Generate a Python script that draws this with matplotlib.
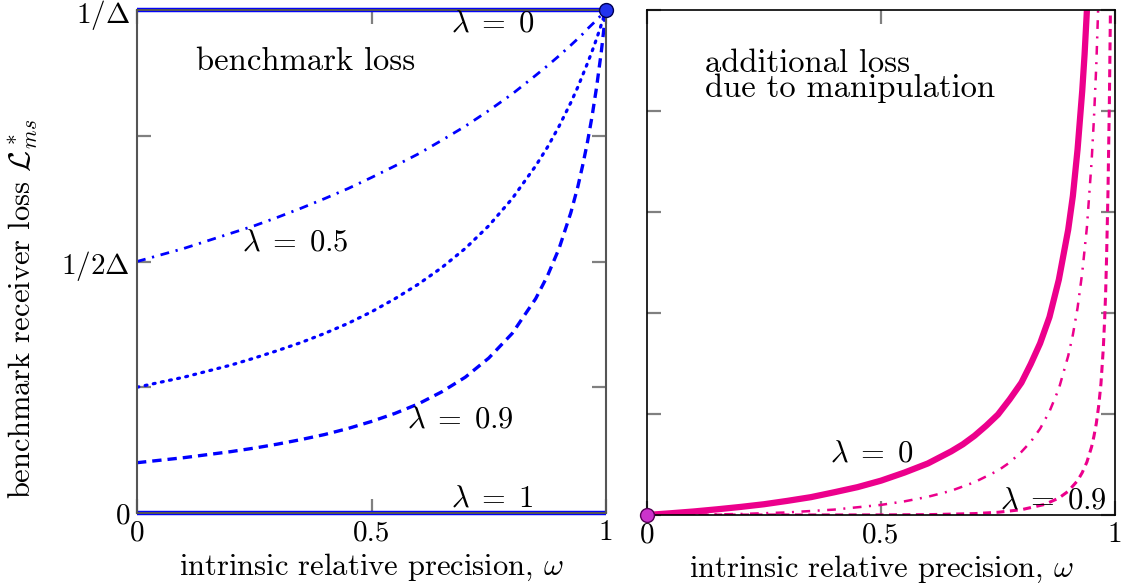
import matplotlib
matplotlib.use("Agg")
import matplotlib.pyplot as plt

# =============================
# Data
# =============================

# left panel: benchmark loss (in units of 1/Delta)
omega_b = [0, .05, .1, .15, .2, .25, .3, .35, .4, .45, .5, .55, .6, .65,
           .7, .75, .8, .85, .875, .9, .925, .94, .95, .96, .97, .98, .99, 1]
bench_l05 = [0.5, 0.513, 0.526, 0.541, 0.556, 0.571, 0.588, 0.606, 0.625,
             0.645, 0.667, 0.690, 0.714, 0.741, 0.769, 0.800, 0.833, 0.870,
             0.889, 0.909, 0.930, 0.943, 0.952, 0.962, 0.971, 0.980, 0.990,
             1.0]
bench_l075 = [0.25, 0.260, 0.270, 0.282, 0.294, 0.308, 0.323, 0.339, 0.357,
              0.377, 0.400, 0.426, 0.455, 0.488, 0.526, 0.571, 0.625, 0.690,
              0.727, 0.769, 0.816, 0.847, 0.870, 0.893, 0.917, 0.943, 0.971,
              1.0]
bench_l09 = [0.1, 0.105, 0.110, 0.116, 0.122, 0.129, 0.137, 0.146, 0.156,
             0.168, 0.182, 0.198, 0.217, 0.241, 0.270, 0.308, 0.357, 0.426,
             0.471, 0.526, 0.597, 0.649, 0.690, 0.735, 0.787, 0.847, 0.917,
             1.0]
bench_l0 = [1.0, 1.0]
bench_l1 = [0.0, 0.0]
omega_flat = [0, 1]

# right panel: additional loss due to manipulation
omega_a0 = [0, .05, .1, .15, .2, .25, .3, .35, .4, .45, .5, .55, .6, .65,
            .675, .7, .725, .75, .775, .8, .82, .84, .86, .88, .9, .91, .92,
            .93, .935, .94, .945]
add_l0 = [0, 0.0034, 0.007, 0.0113, 0.016, 0.0213, 0.028, 0.0353, 0.045,
          0.0552, 0.068, 0.084, 0.102, 0.126, 0.140, 0.157, 0.177, 0.199,
          0.229, 0.262, 0.299, 0.340, 0.392, 0.466, 0.565, 0.632, 0.724,
          0.84, 0.912, 1.0, 1.096]

omega_a05 = [0, .1, .2, .3, .4, .5, .55, .6, .65, .7, .75, .775, .8, .82,
             .84, .86, .88, .9, .91, .92, .93, .94, .95, .955, .96, .965, .97]
add_l05 = [0, 0.0004, 0.002, 0.0051, 0.0107, 0.02, 0.027, 0.036, 0.048,
           0.065, 0.088, 0.104, 0.125, 0.145, 0.171, 0.205, 0.25, 0.315,
           0.357, 0.41, 0.48, 0.57, 0.70, 0.785, 0.89, 1.03, 1.21]

omega_a09 = [0, .5, .6, .7, .75, .8, .85, .88, .9, .92, .93, .94, .95, .955,
             .96, .965, .97, .975, .978, .98, .982, .985, .988, .99, .992]
add_l09 = [0, 0.0002, 0.0007, 0.0028, 0.0054, 0.0105, 0.021, 0.0335, 0.047,
           0.068, 0.084, 0.105, 0.135, 0.156, 0.181, 0.215, 0.26, 0.33,
           0.39, 0.44, 0.51, 0.64, 0.82, 0.98, 1.2]

x_ticks = [0, 0.5, 1]
x_ticklabels = ["0", "0.5", "1"]
yl_ticks = [0, 0.25, 0.5, 0.75, 1]
yl_ticklabels = ["0", "", r"$1/2\Delta$", "", r"$1/\Delta$"]
yr_ticks = [0, 0.2, 0.4, 0.6, 0.8, 1.0]

# =============================
# Style
# =============================

plt.rcParams["font.family"] = "serif"
plt.rcParams["font.serif"] = ["cmr10"]
plt.rcParams["mathtext.fontset"] = "cm"
plt.rcParams["axes.formatter.use_mathtext"] = True
plt.rcParams["axes.unicode_minus"] = False

BLUE = "#0000ff"
MAG = "#ec008c"
TICK = "#808080"
FS = 21     # tick labels
FL = 22     # lambda labels
FT = 23.5   # panel notes

fig = plt.figure(figsize=(11.25, 5.83), dpi=100)

W, H = 1125, 583
def box(x0, y0, x1, y1):
    return [x0 / W, 1 - y1 / H, (x1 - x0) / W, (y1 - y0) / H]

axl = fig.add_axes(box(137, 10, 606, 513))
axr = fig.add_axes(box(647, 10, 1115, 515))

for ax in (axl, axr):
    ax.set_xlim(0, 1)
    ax.set_ylim(0, 1)
    ax.set_xticks(x_ticks)
    ax.set_xticklabels(x_ticklabels, fontsize=FS)
    ax.tick_params(direction="in", length=10, width=1.6, color=TICK,
                   top=True, right=True, pad=5)
    ax.set_xlabel(r"intrinsic relative precision, $\omega$", fontsize=22,
                  labelpad=4)

# -----------------------------
# Left panel
# -----------------------------
for s in axl.spines.values():
    s.set_color("#555555")
    s.set_linewidth(1.5)

axl.set_yticks(yl_ticks)
axl.set_yticklabels(yl_ticklabels, fontsize=FS)
axl.set_ylabel(r"benchmark receiver loss $\mathcal{L}^*_{ms}$", fontsize=22)
axl.yaxis.set_label_coords(-0.205, 0.405)

axl.plot(omega_flat, bench_l0, color=BLUE, lw=3.2, clip_on=False,
         solid_capstyle="butt")
axl.plot(omega_flat, bench_l1, color=BLUE, lw=3.2, clip_on=False,
         solid_capstyle="butt")
axl.plot(omega_b, bench_l05, color=BLUE, lw=2, linestyle=(0, (3.2, 2.4, 0.8, 2.4)))
axl.plot(omega_b, bench_l075, color=BLUE, lw=2.3, linestyle=(0, (0.6, 2.0)),
         dash_capstyle="round")
axl.plot(omega_b, bench_l09, color=BLUE, lw=2.4, linestyle=(0, (2.8, 1.8)))
axl.plot([1], [1], marker="o", ms=10, color="#2233ee", mec="#000055", mew=1,
         clip_on=False, zorder=5)

axl.text(0.36, 0.897, "benchmark loss", fontsize=FT, ha="center", va="center")
axl.text(0.759, 0.972, r"$\lambda\;=\;0$", fontsize=FL, ha="center", va="center")
axl.text(0.337, 0.537, r"$\lambda\;=\;0.5$", fontsize=FL, ha="center", va="center")
axl.text(0.689, 0.185, r"$\lambda\;=\;0.9$", fontsize=FL, ha="center", va="center")
axl.text(0.757, 0.028, r"$\lambda\;=\;1$", fontsize=FL, ha="center", va="center")

# -----------------------------
# Right panel
# -----------------------------
for s in axr.spines.values():
    s.set_color("black")
    s.set_linewidth(1.2)

axr.set_yticks(yr_ticks)
axr.set_yticklabels([])

axr.plot(omega_a0, add_l0, color=MAG, lw=4.5, solid_capstyle="butt")
axr.plot(omega_a05, add_l05, color=MAG, lw=1.8, linestyle=(0, (3.5, 3.0, 0.8, 3.0)))
axr.plot(omega_a09, add_l09, color=MAG, lw=2.2, linestyle=(0, (2.6, 1.8)))
axr.plot([0], [0], marker="o", ms=10, color="#cc33cc", mec="#550055", mew=1,
         clip_on=False, zorder=5)

axr.text(0.124, 0.922, "additional loss\ndue to manipulation", fontsize=FT,
         ha="left", va="top", linespacing=0.8)
axr.text(0.479, 0.121, r"$\lambda\;=\;0$", fontsize=FL, ha="center", va="center")
axr.text(0.868, 0.028, r"$\lambda\;=\;0.9$", fontsize=FL, ha="center", va="center")

fig.savefig("out.png", dpi=100)
